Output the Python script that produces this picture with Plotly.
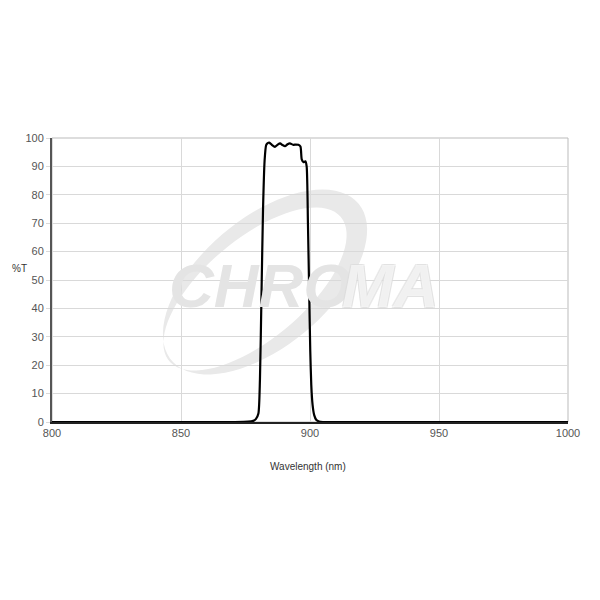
import numpy as np
import plotly.graph_objects as go

wavelength = [800, 870, 876, 878, 879, 880, 880.6, 881.2, 881.8, 882.4, 883, 883.6, 884.2, 885.3, 886.4,
              887.4, 888.4, 889.4, 890.3, 891.3, 892.2, 893.5, 894.5, 895.5, 896.3, 896.8, 897.5, 898.2,
              898.7, 899.2, 899.7, 900.1, 900.5, 901.0, 901.6, 902.4, 903.5, 905, 920, 1000]
transmission = [0, 0, 0.1, 0.4, 1, 3, 15, 45, 75, 92, 97.5, 98.2, 98.4, 97.5, 96.9,
                97.6, 98.1, 97.5, 97.1, 97.8, 98.1, 97.6, 97.7, 97.6, 97.0, 92.5, 91.5, 91.8,
                90, 70, 45, 25, 13, 6, 2.5, 0.8, 0.2, 0, 0, 0]

x_ticks = [800, 850, 900, 950, 1000]
y_ticks = list(range(0, 101, 10))

OFF = 8  # page body margin
W = H = 592
L, R, T, B = 52, 568, 138, 422


def to_paper(px, py):
    return (px - L) / (R - L), (B - py) / (B - T)


def ellipse(cx, cy, a, b, ang, n=80, rev=False):
    t = np.linspace(0, 2 * np.pi, n)
    if rev:
        t = t[::-1]
    ca, sa = np.cos(np.radians(ang)), np.sin(np.radians(ang))
    xs = cx + a * np.cos(t) * ca - b * np.sin(t) * sa
    ys = cy + a * np.cos(t) * sa + b * np.sin(t) * ca
    pts = [to_paper(x, y) for x, y in zip(xs, ys)]
    return "M " + " L ".join(f"{p[0]:.4f},{p[1]:.4f}" for p in pts) + " Z"


path = ellipse(265, 282, 122, 64, -40) + " " + ellipse(255, 289, 112, 50, -40, rev=True)

fig = go.Figure()
fig.add_trace(go.Scatter(x=wavelength, y=transmission, mode="lines",
                         line=dict(color="black", width=2.2, shape="spline", smoothing=0.6),
                         hoverinfo="skip", showlegend=False))

fig.add_shape(type="path", path=path, xref="paper", yref="paper",
              fillcolor="#e9e9e9", line=dict(width=0), layer="below")
fig.add_annotation(text="<b><i>CHRO</i></b>", xref="paper", yref="paper", xanchor="left", yanchor="middle",
                   x=to_paper(167, 285)[0], y=to_paper(167, 285)[1], showarrow=False,
                   font=dict(family="Liberation Sans", size=62, color="#e4e4e4"))
fig.add_annotation(text="<b><i>MA</i></b>", xref="paper", yref="paper", xanchor="right", yanchor="middle",
                   x=to_paper(440, 285)[0], y=to_paper(440, 285)[1], showarrow=False,
                   font=dict(family="Liberation Sans", size=62, color="rgba(255,255,255,0.6)",
                             shadow="1px 1px 0 #dcdcdc, -1px -1px 0 #dcdcdc, 1px -1px 0 #dcdcdc, -1px 1px 0 #dcdcdc"))

fig.update_layout(
    width=W, height=H,
    margin=dict(l=L - OFF, r=W + OFF - R, t=T - OFF, b=H + OFF - B),
    paper_bgcolor="white", plot_bgcolor="white",
    font=dict(family="Liberation Sans", size=11, color="#555"),
    xaxis=dict(range=[800, 1000], tickvals=x_ticks, showgrid=True, gridcolor="#d9d9d9",
               gridwidth=1, zeroline=False, showline=True, linecolor="#222", linewidth=2,
               mirror=False, ticks="", tickfont=dict(size=11, color="#555")),
    yaxis=dict(range=[0, 100], tickvals=y_ticks, showgrid=True, gridcolor="#d9d9d9",
               gridwidth=1, zeroline=False, showline=True, linecolor="#555", linewidth=2,
               ticks="outside", ticklen=4, tickcolor="#d9d9d9", tickfont=dict(size=11, color="#555")),
)
fig.add_shape(type="rect", xref="paper", yref="paper", x0=0, y0=0, x1=1, y1=1,
              line=dict(color="#bbbbbb", width=1), layer="below")
fig.add_annotation(text="%T", xref="paper", yref="paper", xanchor="center", yanchor="middle",
                   x=to_paper(19, 268)[0], y=to_paper(19, 268)[1],
                   showarrow=False, font=dict(size=10, color="#333"))
fig.add_annotation(text="Wavelength (nm)", xref="paper", yref="paper", xanchor="center", yanchor="middle",
                   x=to_paper(308, 466)[0], y=to_paper(308, 466)[1],
                   showarrow=False, font=dict(size=10, color="#333"))

fig.write_html("out.html")
